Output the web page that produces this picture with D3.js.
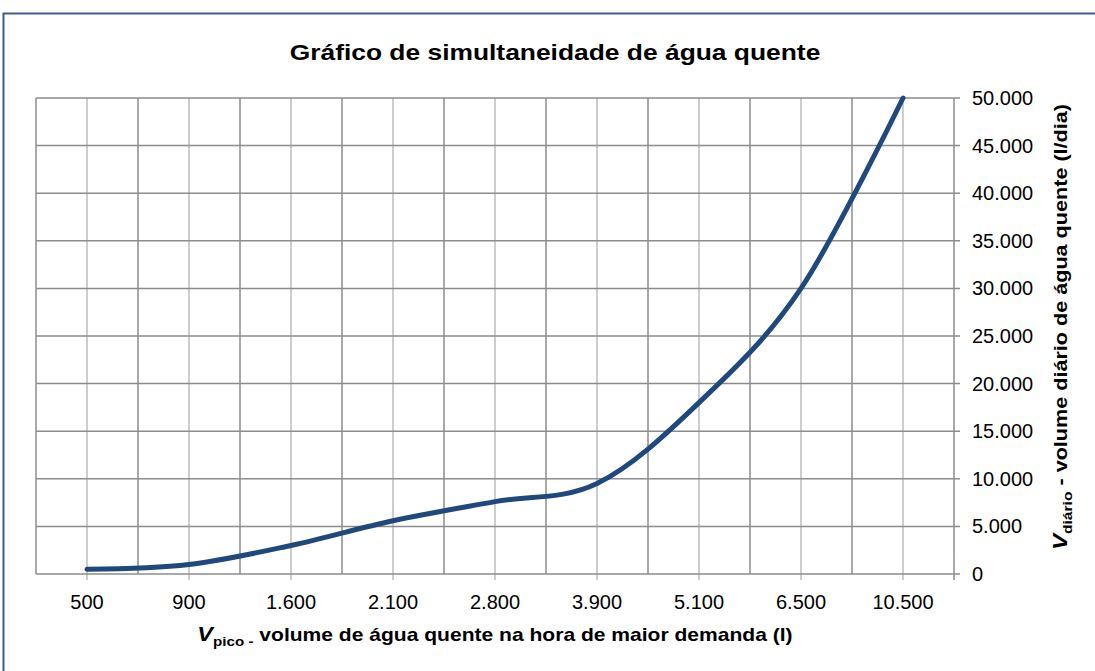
<!DOCTYPE html>
<html>
<head>
<meta charset="utf-8">
<script src="https://cdn.jsdelivr.net/npm/d3@7"></script>
<style>
  body { margin: 0; background: #fff; }
  text { font-family: "Liberation Sans", Arial, sans-serif; fill: #000; }
</style>
</head>
<body>
<div id="viz"></div>
<script>
// V_pico categories (x) and V_diario values (y)
const picoLabels = ["500", "900", "1.600", "2.100", "2.800", "3.900", "5.100", "6.500", "10.500"];
const diarioValues = [500, 1000, 3000, 5600, 7600, 9500, 18000, 30000, 50000];
const yTicks = [0, 5000, 10000, 15000, 20000, 25000, 30000, 35000, 40000, 45000, 50000];

const w = 1095, h = 671;
const plotL = 36, plotR = 954, plotT = 98, plotB = 574;

const svg = d3.select("#viz").append("svg")
  .attr("width", w)
  .attr("height", h);

// outer frame
svg.append("rect")
  .attr("x", 3.5).attr("y", 13.5)
  .attr("width", 1200).attr("height", 800)
  .attr("fill", "#fff")
  .attr("stroke", "#3a5f8f")
  .attr("stroke-width", 2);

const pt = d3.formatLocale({ decimal: ",", thousands: ".", grouping: [3], currency: ["", ""] });
const fmt = pt.format(",d");

const x = d3.scaleBand().domain(picoLabels).range([plotL, plotR]).paddingInner(0).paddingOuter(0);
const y = d3.scaleLinear().domain([0, 50000]).range([plotB, plotT]);
const cx = d => x(d) + x.bandwidth() / 2;

// light gridlines at category centres
svg.append("g").selectAll("line")
  .data(picoLabels).enter().append("line")
  .attr("x1", cx).attr("x2", cx)
  .attr("y1", plotT).attr("y2", plotB + 6)
  .attr("stroke", "#bdbdbd").attr("stroke-width", 1.5);

// dark gridlines at category boundaries
const bounds = picoLabels.map(d => x(d)).concat([plotR]);
svg.append("g").selectAll("line")
  .data(bounds).enter().append("line")
  .attr("x1", d => d).attr("x2", d => d)
  .attr("y1", plotT).attr("y2", (d, i) => i === bounds.length - 1 ? plotB + 6 : plotB)
  .attr("stroke", "#8c8c8c").attr("stroke-width", 1.5);

// horizontal gridlines + right ticks
svg.append("g").selectAll("line")
  .data(yTicks).enter().append("line")
  .attr("x1", plotL).attr("x2", plotR + 6)
  .attr("y1", d => y(d)).attr("y2", d => y(d))
  .attr("stroke", "#8c8c8c").attr("stroke-width", 1.5);

// right y tick labels
svg.append("g").selectAll("text")
  .data(yTicks).enter().append("text")
  .attr("x", plotR + 18)
  .attr("y", d => y(d) + 7)
  .style("font-size", "20px")
  .text(d => fmt(d));

// x tick labels
svg.append("g").selectAll("text")
  .data(picoLabels).enter().append("text")
  .attr("x", cx)
  .attr("y", plotB + 35)
  .attr("text-anchor", "middle")
  .style("font-size", "20px")
  .text(d => d);

// the curve
const line = d3.line()
  .x((d, i) => cx(picoLabels[i]))
  .y(d => y(d))
  .curve(d3.curveCatmullRom.alpha(0));

svg.append("path")
  .datum(diarioValues)
  .attr("d", line)
  .attr("fill", "none")
  .attr("stroke", "#1f497d")
  .attr("stroke-width", 5)
  .attr("stroke-linecap", "round");

// title (the source text is a little stretched sideways)
svg.append("text")
  .attr("transform", "translate(555,60) scale(1.2,1)")
  .attr("text-anchor", "middle")
  .style("font-size", "22px").style("font-weight", "bold")
  .text("Gráfico de simultaneidade de água quente");

// x axis title
const xt = svg.append("text")
  .attr("transform", "translate(495,641) scale(1.17,1)")
  .attr("text-anchor", "middle")
  .style("font-size", "18px").style("font-weight", "bold");
xt.append("tspan").style("font-style", "italic").style("font-size", "20px").text("V");
xt.append("tspan").attr("dy", 5).style("font-size", "13px").text("pico -");
xt.append("tspan").attr("dy", -5).text(" volume de água quente na hora de maior demanda (l)");

// right y axis title
const yt = svg.append("text")
  .attr("transform", "translate(1067,327) rotate(-90) scale(1.2,1)")
  .attr("text-anchor", "middle")
  .style("font-size", "18px").style("font-weight", "bold");
yt.append("tspan").style("font-style", "italic").style("font-size", "20px").text("V");
yt.append("tspan").attr("dy", 5).style("font-size", "13px").text("diário");
yt.append("tspan").attr("dy", -5).text(" - volume  diário de água quente (l/dia)");
</script>
</body>
</html>
